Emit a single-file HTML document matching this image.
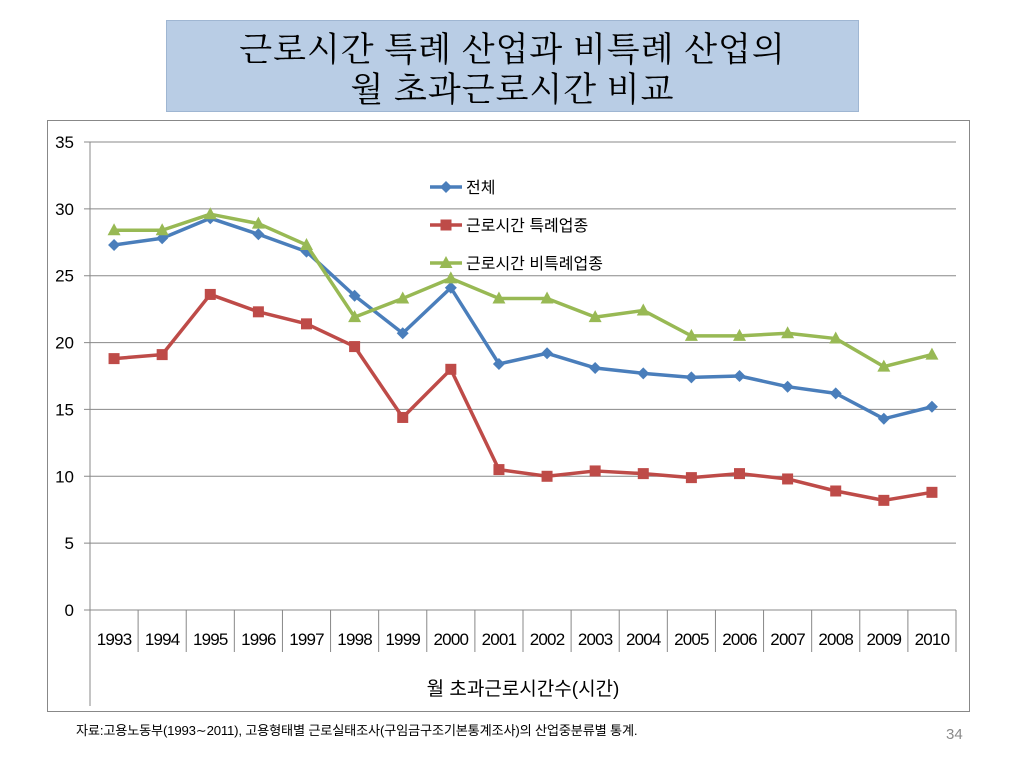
<!DOCTYPE html>
<html><head><meta charset="utf-8">
<style>
body{margin:0;width:1024px;height:768px;background:#fff;overflow:hidden;font-family:"Liberation Sans","Noto Sans CJK KR",sans-serif;position:relative}
#title{position:absolute;left:166px;top:20px;width:693px;height:92px;background:#b9cde5;border:1px solid #9fb6d2;box-sizing:border-box;text-align:center;font-family:"Noto Serif CJK SC","Liberation Serif",serif;font-size:34px;line-height:40px;padding-top:6px;color:#000;letter-spacing:1px}
#foot{position:absolute;left:76px;top:720px;font-size:13.2px;letter-spacing:-0.2px}
#pg{position:absolute;left:946px;top:726px;font-size:15px;color:#8a8a8a}
svg{position:absolute;left:0;top:0}
</style></head><body>
<div id="title">근로시간 특례 산업과 비특례 산업의<br>월 초과근로시간 비교</div>
<svg id="c" width="1024" height="768"></svg>
<div id="foot">자료:고용노동부(1993∼2011), 고용형태별 근로실태조사(구임금구조기본통계조사)의 산업중분류별 통계.</div>
<div id="pg">34</div>
<script>
const years=["1993","1994","1995","1996","1997","1998","1999","2000","2001","2002","2003","2004","2005","2006","2007","2008","2009","2010"];
const total=[27.3,27.8,29.3,28.1,26.8,23.5,20.7,24.1,18.4,19.2,18.1,17.7,17.4,17.5,16.7,16.2,14.3,15.2];
const special=[18.8,19.1,23.6,22.3,21.4,19.7,14.4,18.0,10.5,10.0,10.4,10.2,9.9,10.2,9.8,8.9,8.2,8.8];
const nonSpecial=[28.4,28.4,29.6,28.9,27.3,21.9,23.3,24.8,23.3,23.3,21.9,22.4,20.5,20.5,20.7,20.3,18.2,19.1];
const yTicks=[0,5,10,15,20,25,30,35];
const seriesNames=["전체","근로시간 특례업종","근로시간 비특례업종"];
const NS="http://www.w3.org/2000/svg",svg=document.getElementById('c');
const L=90,R=956,T=142,B=610,yMax=35;
const bw=(R-L)/years.length;
const x=i=>L+bw*(i+0.5), y=v=>B-(v/yMax)*(B-T);
function mk(t,a,p){const e=document.createElementNS(NS,t);for(const k in a)e.setAttribute(k,a[k]);(p||svg).appendChild(e);return e;}
const fr=mk('rect',{x:47.5,y:120.5,width:922,height:591,fill:'none',stroke:'#888'});


yTicks.forEach(v=>{
  const g=mk('line',{x1:L-6,x2:R,y1:y(v),y2:y(v),stroke:'#888'});
  
  
  const t=mk('text',{x:74,y:y(v)+6,'text-anchor':'end','font-size':17});
  t.textContent=v;
  
  
});
mk('line',{x1:L,x2:L,y1:T,y2:706,stroke:'#888'});
years.forEach((yr,i)=>{
  const s=mk('line',{x1:L+bw*(i+1),x2:L+bw*(i+1),y1:B,y2:652,stroke:'#888'});
  
  
  const t=mk('text',{x:x(i),y:645,'text-anchor':'middle','font-size':17,'letter-spacing':'-0.8'});
  t.textContent=yr;
  
  
});
const xt=mk('text',{x:523,y:695,'text-anchor':'middle','font-size':19});
xt.textContent="월 초과근로시간수(시간)";


const cols=["#4a7ebb","#be4b48","#98b954"];
function marker(type,cx,cy,col,p){
  if(type===0)return mk('polygon',{points:`${cx},${cy-6} ${cx+6},${cy} ${cx},${cy+6} ${cx-6},${cy}`,fill:col},p);
  if(type===1)return mk('rect',{x:cx-5.5,y:cy-5.5,width:11,height:11,fill:col},p);
  return mk('polygon',{points:`${cx},${cy-7} ${cx+6.5},${cy+5} ${cx-6.5},${cy+5}`,fill:col},p);
}
[total,special,nonSpecial].forEach((d,si)=>{
  const g=mk('g',{});
  
  
  mk('polyline',{points:d.map((v,i)=>x(i)+','+y(v)).join(' '),fill:'none',stroke:cols[si],'stroke-width':3.5,'stroke-linejoin':'round'},g);
  d.forEach((v,i)=>{
    const m=marker(si,x(i),y(v),cols[si],g);
    
    
  });
  const ly=187+si*38;
  const lg=mk('g',{});
  
  
  mk('line',{x1:430,x2:462,y1:ly,y2:ly,stroke:cols[si],'stroke-width':3.5},lg);
  marker(si,446,ly,cols[si],lg);
  const t=mk('text',{x:466,y:ly+6,'font-size':16},lg);
  t.textContent=seriesNames[si];
});
</script>
</body></html>
